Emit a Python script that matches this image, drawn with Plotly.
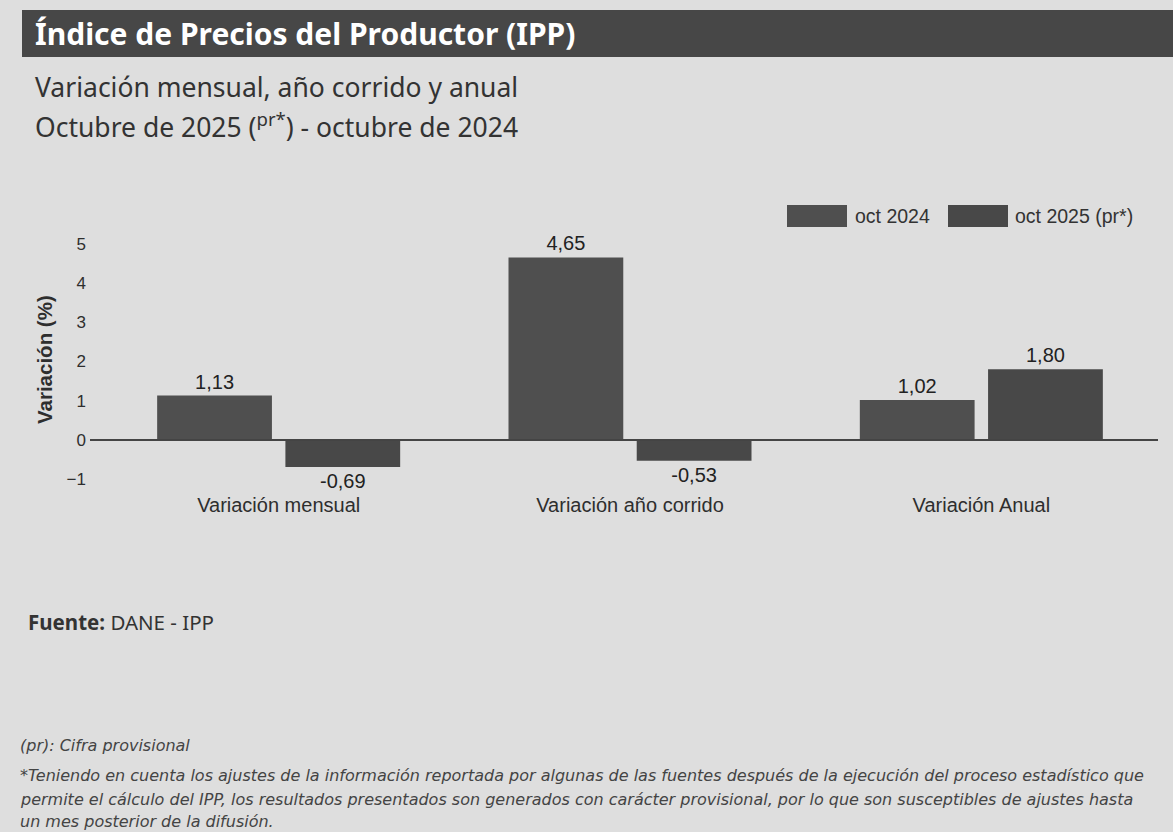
import plotly.graph_objects as go

# Datos del gráfico
categorias = ["Variación mensual", "Variación año corrido", "Variación Anual"]
serie_oct_2024 = [1.13, 4.65, 1.02]
serie_oct_2025 = [-0.69, -0.53, 1.80]
nombres_series = ["oct 2024", "oct 2025 (pr*)"]
ticks_y = [-1, 0, 1, 2, 3, 4, 5]

# Lienzo y área de trazado (px)
W, H = 1173, 832
PLOT_L, PLOT_R, PLOT_T, PLOT_B = 103, 1157, 228, 491

FONDO = "#dedede"
BANDA = "#474747"
COLORES = ["#4f4f4f", "#484848"]
TEXTO = "#2e2e2e"
SANS = "Liberation Sans, Arial, sans-serif"
NOTO = "Noto Sans, Open Sans, sans-serif"
DEJAVU = "DejaVu Sans, Verdana, sans-serif"


def fx(px):
    return (px - PLOT_L) / (PLOT_R - PLOT_L)


def fy(py):
    return (PLOT_B - py) / (PLOT_B - PLOT_T)


def etiqueta(v):
    return f"{v:.2f}".replace(".", ",")


fig = go.Figure()
for nombre, valores, color in zip(nombres_series, [serie_oct_2024, serie_oct_2025], COLORES):
    fig.add_trace(go.Bar(
        name=nombre,
        x=categorias,
        y=valores,
        marker=dict(color=color, line=dict(width=0)),
        text=[etiqueta(v) for v in valores],
        textposition="outside",
        textfont=dict(family=SANS, size=20, color="#222222"),
        cliponaxis=False,
        showlegend=False,
    ))

shapes = [
    # banda del título
    dict(type="rect", xref="paper", yref="paper", x0=fx(22), x1=fx(1173),
         y0=fy(57), y1=fy(10), fillcolor=BANDA, line=dict(width=0), layer="below"),
    # línea de cero
    dict(type="line", xref="paper", yref="y", x0=fx(90), x1=fx(1158), y0=0, y1=0,
         line=dict(color="#444444", width=2)),
]

NOTA = dict(family=DEJAVU, size=16, color="#444444")
annotations = [
    dict(text="<b>Índice de Precios del Productor (IPP)</b>", xref="paper", yref="paper",
         x=fx(33), y=fy(34), xanchor="left", yanchor="middle", showarrow=False,
         font=dict(family=NOTO, size=30, color="#ffffff")),
    dict(text="Variación mensual, año corrido y anual", xref="paper", yref="paper",
         x=fx(33), y=fy(87), xanchor="left", yanchor="middle", showarrow=False,
         font=dict(family=NOTO, size=26.5, color="#333333")),
    dict(text="Octubre de 2025 (<sup>pr*</sup>) - octubre de 2024", xref="paper", yref="paper",
         x=fx(33), y=fy(125), xanchor="left", yanchor="middle", showarrow=False,
         font=dict(family=NOTO, size=26.5, color="#333333")),
    dict(text="<b>Fuente:</b> DANE - IPP", xref="paper", yref="paper",
         x=fx(26), y=fy(622), xanchor="left", yanchor="middle", showarrow=False,
         font=dict(family=NOTO, size=20.5, color="#333333")),
    dict(text="<i>(pr): Cifra provisional</i>", xref="paper", yref="paper",
         x=fx(18), y=fy(745), xanchor="left", yanchor="middle", showarrow=False, font=NOTA),
    dict(text="<i>*Teniendo en cuenta los ajustes de la información reportada por algunas de las fuentes "
              "después de la ejecución del proceso estadístico que</i>",
         xref="paper", yref="paper", x=fx(18), y=fy(775), xanchor="left", yanchor="middle",
         showarrow=False, font=NOTA),
    dict(text="<i>permite el cálculo del IPP, los resultados presentados son generados con carácter "
              "provisional, por lo que son susceptibles de ajustes hasta</i>",
         xref="paper", yref="paper", x=fx(18), y=fy(799), xanchor="left", yanchor="middle",
         showarrow=False, font=NOTA),
    dict(text="<i>un mes posterior de la difusión.</i>",
         xref="paper", yref="paper", x=fx(18), y=fy(821), xanchor="left", yanchor="middle",
         showarrow=False, font=NOTA),
]

# Leyenda con muestras anchas
leyenda_x = [(787, 847, 853), (948, 1008, 1013)]
for (x0, x1, xt), nombre, color in zip(leyenda_x, nombres_series, COLORES):
    shapes.append(dict(type="rect", xref="paper", yref="paper", x0=fx(x0), x1=fx(x1),
                       y0=fy(227), y1=fy(205), fillcolor=color, line=dict(width=0)))
    annotations.append(dict(text=nombre, xref="paper", yref="paper", x=fx(xt), y=fy(216),
                            xanchor="left", yanchor="middle", showarrow=False,
                            font=dict(family=SANS, size=19.5, color="#333333")))

fig.update_layout(
    width=W, height=H,
    margin=dict(l=PLOT_L, r=W - PLOT_R, t=PLOT_T, b=H - PLOT_B, pad=0),
    paper_bgcolor=FONDO, plot_bgcolor=FONDO,
    barmode="group", bargap=0.27, bargroupgap=0.105,
    showlegend=False,
    shapes=shapes,
    annotations=annotations,
    xaxis=dict(showgrid=False, showline=False, ticks="",
               tickfont=dict(family=SANS, size=20, color=TEXTO)),
    yaxis=dict(range=[-1.3, 5.4], tickvals=ticks_y, showgrid=False, zeroline=False,
               showline=False, ticks="", ticklabelstandoff=16,
               tickfont=dict(family=SANS, size=17, color=TEXTO)),
)

# Título del eje Y como texto girado
fig.add_annotation(text="<b>Variación (%)</b>", xref="paper", yref="paper",
                   x=fx(44), y=fy(360), xanchor="center", yanchor="middle",
                   textangle=-90, showarrow=False,
                   font=dict(family=SANS, size=20.5, color=TEXTO))

fig.write_html("out.html")
